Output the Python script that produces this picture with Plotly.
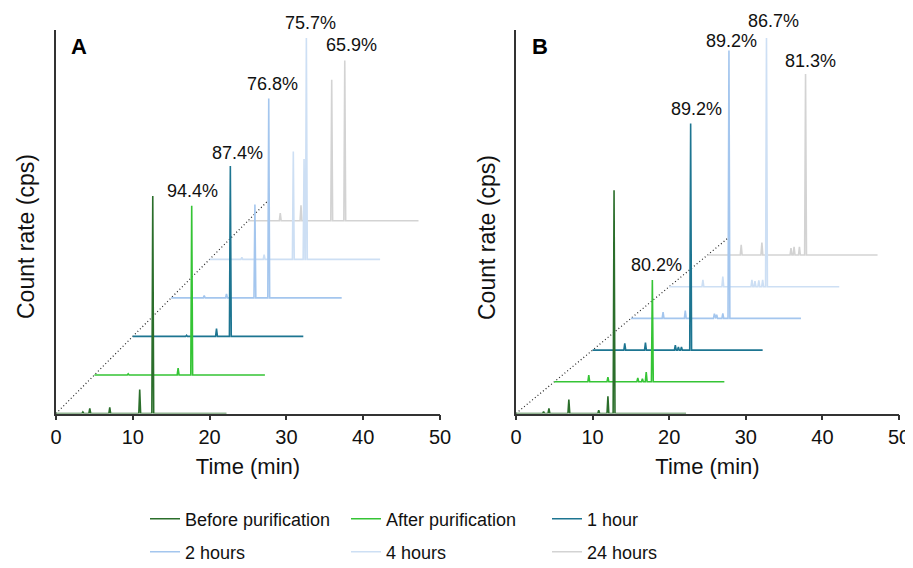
import plotly.graph_objects as go
from plotly.subplots import make_subplots

# ---------------- data ----------------
series_names = ["Before purification", "After purification", "1 hour",
                "2 hours", "4 hours", "24 hours"]
series_colors = ["#2b6e2b", "#35c435", "#1d7591", "#a4c6ee", "#cddff4", "#d3d3d3"]

run_start = 0.0     # min
run_end = 22.2      # min
time_shift = 5.0    # waterfall shift between successive chromatograms (min)
baseline_step = 1.0 # waterfall vertical step (a.u.)

# Panel A: peaks (retention time in min, height above baseline in a.u.)
A_rt_before = [3.5, 4.4, 7.0, 10.9, 12.6]
A_h_before = [0.04, 0.13, 0.16, 0.62, 5.64]
A_rt_after = [4.4, 10.9, 12.67]
A_h_after = [0.03, 0.18, 4.39]
A_rt_1h = [7.0, 10.9, 12.7]
A_h_1h = [0.03, 0.2, 4.42]
A_rt_2h = [4.3, 7.2, 10.9, 12.7]
A_h_2h = [0.06, 0.1, 2.42, 5.17]
A_rt_4h = [4.2, 7.1, 10.9, 12.3, 12.6]
A_h_4h = [0.05, 0.12, 2.8, 2.6, 5.74]
A_rt_24h = [4.2, 6.9, 10.9, 12.6]
A_h_24h = [0.2, 0.4, 3.66, 4.16]
A_purity = ["", "94.4%", "87.4%", "76.8%", "75.7%", "65.9%"]

# Panel B
B_rt_before = [3.6, 4.3, 6.9, 10.8, 12.0, 12.8]
B_h_before = [0.06, 0.16, 0.44, 0.1, 0.54, 7.04]
B_rt_after = [4.5, 7.0, 10.9, 11.5, 12.0, 12.8]
B_h_after = [0.21, 0.15, 0.12, 0.1, 0.31, 3.21]
B_rt_1h = [4.2, 6.9, 10.8, 11.2, 11.6, 12.8]
B_h_1h = [0.21, 0.24, 0.16, 0.1, 0.1, 7.15]
B_rt_2h = [4.2, 7.1, 10.9, 11.2, 12.0, 12.8]
B_h_2h = [0.2, 0.25, 0.15, 0.12, 0.16, 8.45]
B_rt_4h = [4.4, 7.0, 10.8, 11.2, 11.7, 12.2, 12.7]
B_h_4h = [0.22, 0.32, 0.22, 0.18, 0.2, 0.22, 7.85]
B_rt_24h = [4.4, 7.1, 10.9, 11.3, 12.0, 12.8]
B_h_24h = [0.32, 0.39, 0.22, 0.26, 0.26, 5.71]
B_purity = ["", "80.2%", "89.2%", "89.2%", "86.7%", "81.3%"]

guide_end_A = 27.7
guide_end_B = 27.8

A_rt = [A_rt_before, A_rt_after, A_rt_1h, A_rt_2h, A_rt_4h, A_rt_24h]
A_h = [A_h_before, A_h_after, A_h_1h, A_h_2h, A_h_4h, A_h_24h]
B_rt = [B_rt_before, B_rt_after, B_rt_1h, B_rt_2h, B_rt_4h, B_rt_24h]
B_h = [B_h_before, B_h_after, B_h_1h, B_h_2h, B_h_4h, B_h_24h]

# label offsets (pixels) – styling only
A_lab_dx = [0, 1, 7, 4, 4, 7]
A_lab_dy = [0, 3, 1, 3, 3, 3]
B_lab_dx = [0, 4, 6, 3, 7, 5]
B_lab_dy = [0, 3, 2, -2, 5, 1]

FONT = "Liberation Sans, Arial, sans-serif"
HW = 0.12  # peak half width (min)

# page body has an 8 px margin -> figure is placed at (8, 8)
W, H, OFF = 905, 560, 8


def px(x):
    return (x - OFF) / W


def py(y):
    return 1 - (y - OFF) / H


def chromatogram(rts, hs):
    xs, ys = [run_start], [0.0]
    for rt, h in zip(rts, hs):
        xs += [rt - HW, rt, rt + HW]
        ys += [0.0, h, 0.0]
    xs.append(run_end)
    ys.append(0.0)
    return xs, ys


fig = make_subplots(rows=1, cols=2)

for col, (rts, hs, guide_end, purity, ldx, ldy) in enumerate(
        [(A_rt, A_h, guide_end_A, A_purity, A_lab_dx, A_lab_dy),
         (B_rt, B_h, guide_end_B, B_purity, B_lab_dx, B_lab_dy)], start=1):
    fig.add_trace(go.Scatter(
        x=[0, guide_end], y=[0, guide_end / time_shift * baseline_step],
        mode="lines", line=dict(color="#222", width=1.2, dash="1px,2.5px"),
        showlegend=False, hoverinfo="skip"), row=1, col=col)
    for i in reversed(range(6)):
        xs, ys = chromatogram(rts[i], hs[i])
        fig.add_trace(go.Scatter(
            x=[x + i * time_shift for x in xs],
            y=[y + i * baseline_step for y in ys],
            mode="lines", name=series_names[i],
            line=dict(color=series_colors[i], width=1.6),
            showlegend=(col == 1),
            legend="legend" if i < 3 else "legend2"), row=1, col=col)
        if purity[i]:
            k = max(range(len(hs[i])), key=lambda j: hs[i][j])
            fig.add_annotation(
                x=rts[i][k] + i * time_shift, y=hs[i][k] + i * baseline_step,
                xref=f"x{col if col > 1 else ''}", yref=f"y{col if col > 1 else ''}",
                text=purity[i], showarrow=False, xanchor="center", yanchor="bottom",
                xshift=ldx[i], yshift=ldy[i], font=dict(size=18, color="#111", family=FONT))

axis_common = dict(showgrid=False, zeroline=False, showline=True,
                   linecolor="#333", linewidth=1.5, automargin=False)
for col, (x0, x1) in [(1, (56, 440)), (2, (516, 899))]:
    fig.update_xaxes(row=1, col=col, domain=[px(x0), px(x1)], range=[0, 50],
                     tickvals=[0, 10, 20, 30, 40, 50], ticks="outside", ticklen=5,
                     tickwidth=1.5, tickcolor="#333",
                     tickfont=dict(size=20, color="#111", family=FONT),
                     title=dict(text="Time (min)", standoff=11,
                                font=dict(size=22, color="#111", family=FONT)),
                     **axis_common)
fig.update_yaxes(row=1, col=1, domain=[py(413.5), py(30)], range=[0, 9.95])
fig.update_yaxes(row=1, col=2, domain=[py(413.5), py(30)], range=[0, 12.1])
fig.update_yaxes(showticklabels=False, ticks="", **axis_common)

# y-axis titles and panel letters
for xt in (26, 487):
    fig.add_annotation(x=px(xt), y=py(237), xref="paper", yref="paper",
                       xanchor="center", yanchor="middle",
                       text="Count rate (cps)", textangle=-90, showarrow=False,
                       font=dict(size=23, color="#111", family=FONT))
for txt, xp in [("A", 79), ("B", 540)]:
    fig.add_annotation(x=px(xp), y=py(47), xref="paper", yref="paper",
                       xanchor="center", yanchor="middle",
                       text=f"<b>{txt}</b>", showarrow=False,
                       font=dict(size=22, color="#000", family=FONT))

legend_common = dict(orientation="h", xanchor="left", yanchor="middle",
                     entrywidth=156, entrywidthmode="pixels", traceorder="reversed",
                     font=dict(size=18, color="#111", family=FONT),
                     bgcolor="rgba(0,0,0,0)")
fig.update_layout(
    width=W, height=H,
    margin=dict(l=0, r=0, t=0, b=0, autoexpand=False),
    paper_bgcolor="white", plot_bgcolor="white",
    font=dict(family=FONT),
    legend=dict(x=px(145), y=py(519), **legend_common),
    legend2=dict(x=px(145), y=py(552), **legend_common),
)

fig.write_html("out.html")
